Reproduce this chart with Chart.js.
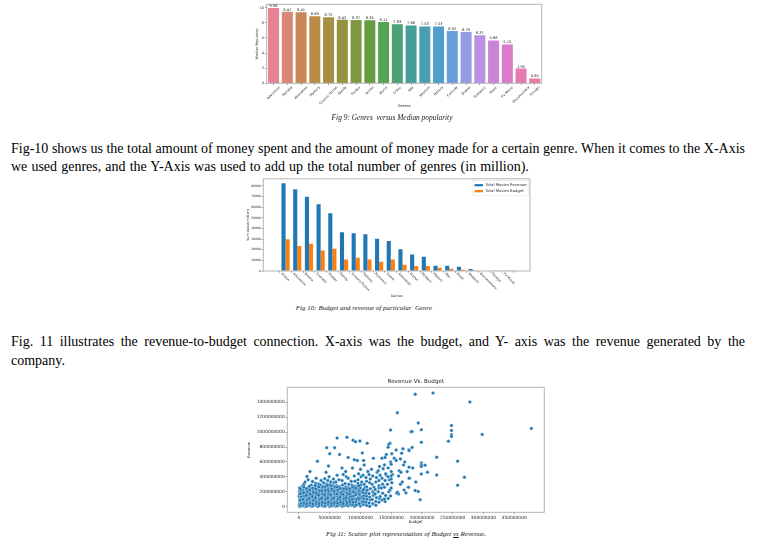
<!DOCTYPE html>
<html>
<head>
<meta charset="utf-8">
<script src="https://cdn.jsdelivr.net/npm/chart.js@4.4.1/dist/chart.umd.min.js"></script>
<style>
  html, body { margin: 0; padding: 0; background: #fff; }
  body { width: 759px; height: 542px; position: relative; overflow: hidden;
         font-family: "Liberation Serif", "Times New Roman", serif; color: #000; }
  .fig { position: absolute; }
  .cap { position: absolute; font-style: italic; font-size: 7px; white-space: nowrap;
         transform: translate(-50%, -50%); color: #222; }
  .ln { position: absolute; left: 11px; width: 734px; font-size: 14px; line-height: 14px; white-space: nowrap; }
  .just { text-align: justify; text-align-last: justify; }
</style>
</head>
<body>

<canvas id="popularity" class="fig" width="310" height="114" style="left:240px;top:0px"></canvas>
<div class="cap" style="left:392px;top:117px;font-size:7.4px">Fig 9: Genres&nbsp; versus Median popularity</div>

<div class="ln just" style="top:142px">Fig-10 shows us the total amount of money spent and the amount of money made for a certain genre. When it comes to the X-Axis</div>
<div class="ln" style="top:160px;word-spacing:0.6px">we used genres, and the Y-Axis was used to add up the total number of genres (in million).</div>

<canvas id="money" class="fig" width="315" height="127" style="left:225px;top:176px"></canvas>
<div class="cap" style="left:364px;top:308px">Fig 10: Budget and revenue of particular&nbsp; Genre</div>

<div class="ln just" style="top:335px">Fig. 11 illustrates the revenue-to-budget connection. X-axis was the budget, and Y- axis was the revenue generated by the</div>
<div class="ln" style="top:353.5px">company.</div>

<canvas id="scatter" class="fig" width="315" height="148" style="left:235px;top:378px"></canvas>
<div class="cap" style="left:406px;top:534px">Fig 11: Scatter plot representation of Budget <u>vs</u> Revenue.</div>

<script>
// ---- Fig 9: median popularity per genre ----
const popularityGenres = ['Adventure', 'Fantasy', 'Animation', 'Mystery', 'Science Fiction', 'Family',
  'Thriller', 'Action', 'Horror', 'Crime', 'War', 'Western', 'History', 'Comedy', 'Drama', 'Romance',
  'Music', 'TV Movie', 'Documentary', 'Foreign'];
const medianPopularity = [9.96, 9.47, 9.41, 8.88, 8.75, 8.42, 8.37, 8.35, 8.11, 7.83, 7.66, 7.53, 7.53,
  6.92, 6.79, 6.37, 5.68, 5.15, 1.95, 0.65];
const popularityColors = ['#e68294', '#d98776', '#c98856', '#b88c45', '#a78f42', '#96933f', '#7d9840',
  '#659e41', '#57a355', '#4ea076', '#459e97', '#499eb0', '#4f9fca', '#689edb', '#959be4', '#bb91e6',
  '#c985d6', '#d97bca', '#e47ab1', '#e57ea1'];
const popularityTicks = [0, 2, 4, 6, 8, 10];

// ---- Fig 10: summed revenue and budget per genre (million) ----
const moneyGenres = ['Action', 'Adventure', 'Drama', 'Comedy', 'Thriller', 'Family', 'Science Fiction',
  'Fantasy', 'Romance', 'Crime', 'Animation', 'Horror', 'Mystery', 'History', 'War', 'Music', 'Western',
  'Documentary', 'Foreign', 'TV Movie'];
const totalRevenue = [82500, 76900, 69700, 62600, 54200, 36400, 35500, 34600, 30200, 28300, 20500, 15500,
  13400, 5000, 5000, 4000, 1900, 300, 40, 10];
const totalBudget = [29900, 23600, 25500, 19300, 20800, 10800, 12400, 10800, 8700, 10800, 5900, 4700,
  4700, 3100, 2100, 1200, 600, 150, 20, 5];
const moneyTicks = [0, 10000, 20000, 30000, 40000, 50000, 60000, 70000, 80000];

// ---- Fig 11: budget vs revenue per film, in millions ----
const budgetRevenueM = [
  [1,3],[0.5,25],[1.5,48],[0.8,80],[1.2,110],[0.3,140],[1,165],[0.6,200],[1.4,228],[1,252],
  [5,8],[4.5,35],[5.5,60],[4,92],[5,125],[6,150],[4.8,178],[5.2,210],[5.8,245],[6,278],
  [10,2],[9.5,28],[10.5,55],[11,85],[9,112],[10,138],[10.8,170],[9.6,198],[11.2,232],[8,300],[10,330],
  [15,12],[14.5,40],[15.5,70],[16,98],[14,128],[15,160],[15.8,190],[14.6,220],[16,255],[15,360],[13,405],
  [20,5],[19.5,30],[21,58],[20.5,88],[19,118],[20,145],[21,175],[19.8,205],[20.6,240],[20,290],[22,338],[18,470],
  [25,18],[24.5,45],[25.5,72],[26,100],[24,132],[25,162],[26,195],[24.8,228],[25.5,262],[27,315],[30,610],
  [30,3],[29.5,28],[30.5,52],[31,80],[29,110],[30,142],[31,172],[30.2,200],[29.6,232],[30.8,275],[32,305],[28,380],
  [35,15],[34.5,40],[35.5,68],[36,95],[34,125],[35,155],[35.8,185],[34.6,215],[36,250],[35,290],[36,350],
  [40,6],[39.5,32],[40.5,60],[41,88],[39,118],[40,148],[40.8,178],[39.6,208],[40.4,240],[41,280],[40,320],[42,375],[44,460],[45,790],
  [45,20],[44.5,48],[45.5,75],[46,105],[44,135],[45,165],[45.8,195],[44.6,225],[46,260],[45,305],[47,350],[48,545],
  [50,2],[49.5,25],[50.5,55],[51,85],[49,115],[50,145],[50.8,172],[49.6,200],[50.4,230],[51,265],[50,300],[52,330],[49,400],[50,710],
  [55,12],[54.5,40],[55.5,70],[56,100],[54,130],[55,160],[55.8,190],[54.6,218],[56,250],[55,285],[57,320],[58,790],[56,370],
  [60,5],[59.5,30],[60.5,60],[61,92],[59,122],[60,150],[60.8,182],[59.6,212],[60.4,245],[61,280],[60,330],[62,920],[62,420],
  [65,18],[64.5,45],[65.5,78],[66,108],[64,138],[65,168],[65.8,200],[64.6,232],[66,270],[66,700],[65,360],
  [70,4],[69.5,30],[70.5,58],[71,90],[69,120],[70,150],[70.8,180],[69.6,210],[70.4,245],[71,290],[70,350],[72,430],[70,520],
  [75,15],[74.5,42],[75.5,72],[76,102],[74,132],[75,162],[75.8,195],[74.6,228],[76,265],[75,310],[77,400],[76,470],
  [80,8],[79.5,35],[80.5,62],[81,95],[79,125],[80,155],[80.8,188],[79.6,220],[80.4,255],[81,300],[78,930],[80,660],[80,380],
  [85,20],[84.5,50],[85.5,85],[86,120],[84,150],[85,180],[85.8,215],[84.6,250],[86,290],[85,340],[87,520],
  [90,5],[89.5,40],[90.5,75],[91,110],[89,145],[90,175],[90.8,210],[89.6,240],[90.4,275],[88,890],[92,870],[90,630],[91,340],[90,410],
  [95,25],[94.5,60],[95.5,95],[96,130],[94,165],[95,200],[95.8,235],[94.6,270],[96,310],[95,620],[97,440],[96,360],
  [100,10],[99.5,45],[100.5,80],[101,115],[99,150],[100,185],[100.8,220],[99.6,255],[100.4,290],[99,880],[100,500],[102,330],[101,400],[103,720],
  [2.5,15],[3,60],[2,105],[3.5,155],[2.8,190],[7.5,20],[7,75],[8,120],[7.2,165],[6.8,225],[12.5,10],[12,65],[13,115],[12.2,180],
  [17.5,22],[17,80],[18,135],[17.2,200],[22.5,8],[22,62],[23,110],[22.4,160],[22.8,215],[27.5,30],[27,90],[28,150],[27.4,210],
  [32.5,12],[32,65],[33,125],[32.6,190],[37.5,25],[37,85],[38,140],[37.4,230],[42.5,10],[42,70],[43,130],[42.6,195],
  [47.5,35],[47,90],[48,150],[47.2,240],[52.5,15],[52,70],[53,130],[52.6,210],[57.5,28],[57,85],[58,140],[57.4,230],
  [62.5,12],[62,75],[63,135],[62.6,200],[67.5,35],[67,90],[68,160],[72.5,15],[72,70],[73,135],[72.6,215],
  [77.5,25],[77,85],[78,150],[82.5,40],[82,110],[83,200],[87.5,30],[88,140],[92.5,60],[93,180],[97.5,90],[98,210],
  [3.2,42],[2.2,88],[3.8,132],[2.6,176],[3.4,218],[1.8,240],[8.4,45],[6.6,100],[8.8,142],[7.6,188],[8.2,262],
  [12.8,38],[13.6,92],[11.8,148],[13.4,205],[12.6,242],[17.8,50],[16.6,110],[18.4,165],[17.4,228],[16.8,272],
  [22.6,35],[23.4,85],[21.8,135],[23.6,188],[22.2,250],[27.8,55],[26.6,120],[28.4,180],[27.2,240],[26.4,285],
  [32.8,40],[33.6,98],[31.8,155],[33.2,215],[32.4,262],[37.8,55],[36.6,112],[38.4,172],[37.2,212],[38.6,265],
  [42.8,45],[43.6,100],[41.8,160],[43.2,222],[42.4,268],[47.8,60],[46.6,118],[48.4,180],[47.6,215],[46.4,282],
  [52.8,42],[53.6,100],[51.8,160],[53.2,238],[52.4,280],[57.8,52],[56.6,115],[58.4,170],[57.2,205],[58.6,262],
  [62.8,45],[63.6,105],[61.8,168],[63.2,225],[62.4,262],[67.8,60],[66.6,125],[68.4,190],[67.2,245],
  [71.8,40],[73.6,105],[71.4,165],[73.2,240],[77.8,55],[76.6,118],[78.4,178],[77.2,240],
  [82.8,70],[83.6,140],[81.8,170],[82.4,235],[87.8,60],[86.6,100],[88.4,195],[87.2,265],
  [92.8,20],[93.6,95],[91.8,155],[92.4,250],[97.8,40],[96.6,110],[98.4,170],[97.2,280],
  [102.6,60],[103.4,140],[102.2,200],[107.6,90],[108.2,210],[107.4,260],
  [105,30],[104.5,70],[105.5,110],[106,150],[104,190],[105,230],[106,300],[104,420],[105,620],[106,560],
  [110,15],[109,60],[111,100],[110,140],[109,180],[111,220],[110,265],[110,340],[112,470],[111,850],[109,390],
  [115,5],[114,50],[116,90],[115,130],[114,175],[116,240],[115,320],[114,430],[116,370],
  [120,40],[119,95],[121,150],[120,200],[122,260],[119,300],[120,410],[121,650],[118,500],[122,180],
  [125,70],[126,120],[124,230],[125,330],[127,460],[126,390],[125,20],[124,170],
  [130,60],[131,110],[129,200],[130,280],[132,420],[131,540],[130,350],[129,480],[130,250],
  [135,90],[136,180],[134,250],[135,380],[137,510],[135,650],[136,300],
  [140,70],[141,150],[139,260],[140,350],[142,420],[141,440],[140,660],[142,700],[139,560],
  [145,110],[146,200],[144,300],[145,400],[147,360],[145,520],
  [148,224],[149,143],[150,370],[151,320],[150,470],[149,600],[151,710],[149,1027],[148,852],[146,834],[150,570],[145,798],[152,430],[150,250],[150,410],
  [155,650],[158,620],[159,179],[160,1260],[162,410],[165,300],[163,480],[166,460],[167,717],[169,776],[170,560],[168,330],
  [162,170],[172,600],[174,184],[165,640],[158,760],[171,224],[160,193],[132,135],[139,103],
  [176,470],[178,260],[179,762],[180,380],[182,1004],[184,794],[185,520],[189,215],[189,1507],[190,330],[194,202],[194,1121],
  [197,94],[199,587],[199,560],[199,538],[199,439],[199,865],[199,1031],[205,556],[209,462],[218,1525],[224,664],[224,426],
  [179,529],[179,381],[184,1009],[179,753],
  [243,879],[248,1090],[248,1022],[248,964],[248,942],[258,610],[258,287],[269,395],[278,1404],[298,969],[378,1049]
];
const budgetTicksM = [0, 50, 100, 150, 200, 250, 300, 350];
const revenueTicksM = [0, 200, 400, 600, 800, 1000, 1200, 1400];

const FONT = '"DejaVu Sans", sans-serif';
const INK = '#262626';

// grey box around the plotting area
const frameBox = {
  id: 'frameBox',
  afterDatasetsDraw(chart, _a, o) {
    const { ctx, chartArea: a } = chart;
    ctx.save();
    ctx.strokeStyle = o.color;
    ctx.lineWidth = 1;
    ctx.strokeRect(a.left, a.top, a.right - a.left, a.bottom - a.top);
    ctx.restore();
  }
};

// 45 degree category labels under the x axis
const slantedTickLabels = {
  id: 'slantedTickLabels',
  afterDraw(chart, _a, o) {
    const { ctx, chartArea } = chart;
    const xs = chart.scales.x;
    ctx.save();
    ctx.font = `${o.size}px ${FONT}`;
    ctx.fillStyle = INK;
    o.labels.forEach((text, i) => {
      const x = xs.getPixelForValue(i);
      const w = ctx.measureText(text).width;
      ctx.save();
      if (o.mode === 'center') {
        const half = (w + o.size) * Math.SQRT1_2 / 2;
        ctx.translate(x, chartArea.bottom + o.gap + half);
        ctx.rotate(-Math.PI / 4);
        ctx.textAlign = 'center';
      } else {
        ctx.translate(x + o.shift, chartArea.bottom + o.gap);
        ctx.rotate(Math.PI / 4);
        ctx.textAlign = 'left';
      }
      ctx.textBaseline = 'middle';
      ctx.fillText(text, 0, 0);
      ctx.restore();
    });
    ctx.restore();
  }
};

// value printed on top of each bar
const barValueLabels = {
  id: 'barValueLabels',
  afterDatasetsDraw(chart, _a, o) {
    const { ctx } = chart;
    const values = chart.data.datasets[0].data;
    ctx.save();
    ctx.font = `${o.size}px ${FONT}`;
    ctx.fillStyle = INK;
    ctx.textAlign = 'center';
    ctx.textBaseline = 'bottom';
    chart.getDatasetMeta(0).data.forEach((bar, i) => {
      ctx.fillText(values[i].toFixed(2), bar.x, bar.y - 0.2);
    });
    ctx.restore();
  }
};

// legend box in the upper right corner of the plotting area
const cornerLegend = {
  id: 'cornerLegend',
  afterDraw(chart, _a, o) {
    const { ctx, chartArea: a } = chart;
    const sets = chart.data.datasets;
    ctx.save();
    ctx.font = `${o.size}px ${FONT}`;
    const textW = Math.max(...sets.map(d => ctx.measureText(d.label).width));
    const w = o.pad * 2 + o.swatch + o.gap + textW;
    const h = o.pad * 2 + o.row * sets.length;
    const x0 = a.right - o.inset - w;
    const y0 = a.top + o.inset;
    ctx.strokeStyle = '#e2e2e2';
    ctx.lineWidth = 0.6;
    ctx.strokeRect(x0, y0, w, h);
    sets.forEach((d, i) => {
      const cy = y0 + o.pad + o.row * (i + 0.5);
      ctx.fillStyle = d.backgroundColor;
      ctx.fillRect(x0 + o.pad, cy - 1.1, o.swatch, 2.2);
      ctx.fillStyle = INK;
      ctx.textBaseline = 'middle';
      ctx.fillText(d.label, x0 + o.pad + o.swatch + o.gap, cy);
    });
    ctx.restore();
  }
};

const tickMarks = { drawOnChartArea: false, drawTicks: true, tickLength: 1.6, color: '#444', lineWidth: 0.6 };

function fixedTicks(list) {
  return s => { s.ticks = list.map(v => ({ value: v })); };
}

// Fig 9
new Chart(document.getElementById('popularity'), {
  type: 'bar',
  data: {
    labels: popularityGenres,
    datasets: [{ data: medianPopularity, backgroundColor: popularityColors,
                 categoryPercentage: 1, barPercentage: 0.8 }]
  },
  options: {
    responsive: false, animation: false, events: [],
    layout: { padding: { top: 4.3, right: 8.3, left: 0, bottom: 0 } },
    plugins: {
      legend: { display: false }, tooltip: { enabled: false },
      frameBox: { color: '#b4b4b4' },
      slantedTickLabels: { labels: popularityGenres, size: 3.3, gap: 2.4, mode: 'center' },
      barValueLabels: { size: 3.6 }
    },
    scales: {
      x: {
        offset: true,
        grid: { ...tickMarks, offset: false },
        border: { display: false },
        ticks: { display: false },
        title: { display: true, text: 'Genres', color: INK, font: { size: 3.6, family: FONT }, padding: { top: 0, bottom: 5.8 } },
        afterFit: s => { s.height = 30.7; }
      },
      y: {
        min: 0, max: 10.458,
        afterBuildTicks: fixedTicks(popularityTicks),
        grid: tickMarks,
        border: { display: false },
        ticks: { color: INK, padding: 1, font: { size: 3.5, family: FONT } },
        title: { display: true, text: 'Median Popularity', color: INK, font: { size: 3.4, family: FONT }, padding: { top: 15, bottom: 0 } },
        afterFit: s => { s.width = 26.7; }
      }
    }
  },
  plugins: [frameBox, slantedTickLabels, barValueLabels]
});

// Fig 10
new Chart(document.getElementById('money'), {
  type: 'bar',
  data: {
    datasets: [
      { label: 'Total Movies Revenue', data: totalRevenue.map((v, i) => ({ x: i, y: v })),
        backgroundColor: '#1f77b4', categoryPercentage: 0.7, barPercentage: 1 },
      { label: 'Total Movies Budget', data: totalBudget.map((v, i) => ({ x: i, y: v })),
        backgroundColor: '#ff7f0e', categoryPercentage: 0.7, barPercentage: 1 }
    ]
  },
  options: {
    responsive: false, animation: false, events: [],
    layout: { padding: { top: 2.5, right: 10, left: 0, bottom: 0 } },
    plugins: {
      legend: { display: false }, tooltip: { enabled: false },
      frameBox: { color: '#b4b4b4' },
      slantedTickLabels: { labels: moneyGenres, size: 3.3, gap: 2.2, mode: 'start', shift: -4 },
      cornerLegend: { size: 3.8, pad: 1.6, swatch: 8.4, gap: 2.6, row: 6, inset: 1.8 }
    },
    scales: {
      x: {
        type: 'linear', min: -1.335, max: 20.335,
        afterBuildTicks: fixedTicks(moneyGenres.map((_, i) => i)),
        grid: tickMarks,
        border: { display: false },
        ticks: { display: false },
        title: { display: true, text: 'Genres', color: INK, font: { size: 3.4, family: FONT }, padding: { top: 0, bottom: 5.2 } },
        afterFit: s => { s.height = 32; }
      },
      y: {
        min: 0, max: 86625,
        afterBuildTicks: fixedTicks(moneyTicks),
        grid: tickMarks,
        border: { display: false },
        ticks: { color: INK, padding: 1, font: { size: 3, family: FONT }, callback: v => String(v) },
        title: { display: true, text: 'Sum value(million)', color: INK, font: { size: 3.4, family: FONT }, padding: { top: 21, bottom: 0 } },
        afterFit: s => { s.width = 38.3; }
      }
    }
  },
  plugins: [frameBox, slantedTickLabels, cornerLegend]
});

// Fig 11
new Chart(document.getElementById('scatter'), {
  type: 'scatter',
  data: {
    datasets: [{
      data: budgetRevenueM.map(([b, r]) => ({ x: b, y: r })),
      pointRadius: 1.75, pointBackgroundColor: '#1f77b4',
      pointBorderColor: '#ffffff', pointBorderWidth: 0.35
    }]
  },
  options: {
    responsive: false, animation: false, events: [],
    layout: { padding: { top: 0.6, right: 5.7, left: 0, bottom: 0 } },
    plugins: {
      legend: { display: false }, tooltip: { enabled: false },
      frameBox: { color: '#b4b4b4' },
      title: { display: true, text: 'Revenue Vs. Budget', fullSize: false, color: INK,
               font: { size: 5.6, family: FONT, weight: 'normal' }, padding: { top: 0, bottom: 2 } }
    },
    scales: {
      x: {
        type: 'linear', min: -19, max: 399,
        afterBuildTicks: fixedTicks(budgetTicksM),
        grid: tickMarks,
        border: { display: false },
        ticks: { color: INK, padding: 1, maxRotation: 0, font: { size: 4.4, family: FONT },
                 callback: v => String(Math.round(v * 1e6)) },
        title: { display: true, text: 'budget', color: INK, font: { size: 4, family: FONT }, padding: { top: 0, bottom: 1.9 } },
        afterFit: s => { s.height = 13.7; }
      },
      y: {
        min: -76, max: 1601,
        afterBuildTicks: fixedTicks(revenueTicksM),
        grid: tickMarks,
        border: { display: false },
        ticks: { color: INK, padding: 1, font: { size: 4.4, family: FONT },
                 callback: v => String(Math.round(v * 1e6)) },
        title: { display: true, text: 'Revenue', color: INK, font: { size: 3.6, family: FONT }, padding: { top: 11.6, bottom: 0 } },
        afterFit: s => { s.width = 52.3; }
      }
    }
  },
  plugins: [frameBox]
});
</script>
</body>
</html>
